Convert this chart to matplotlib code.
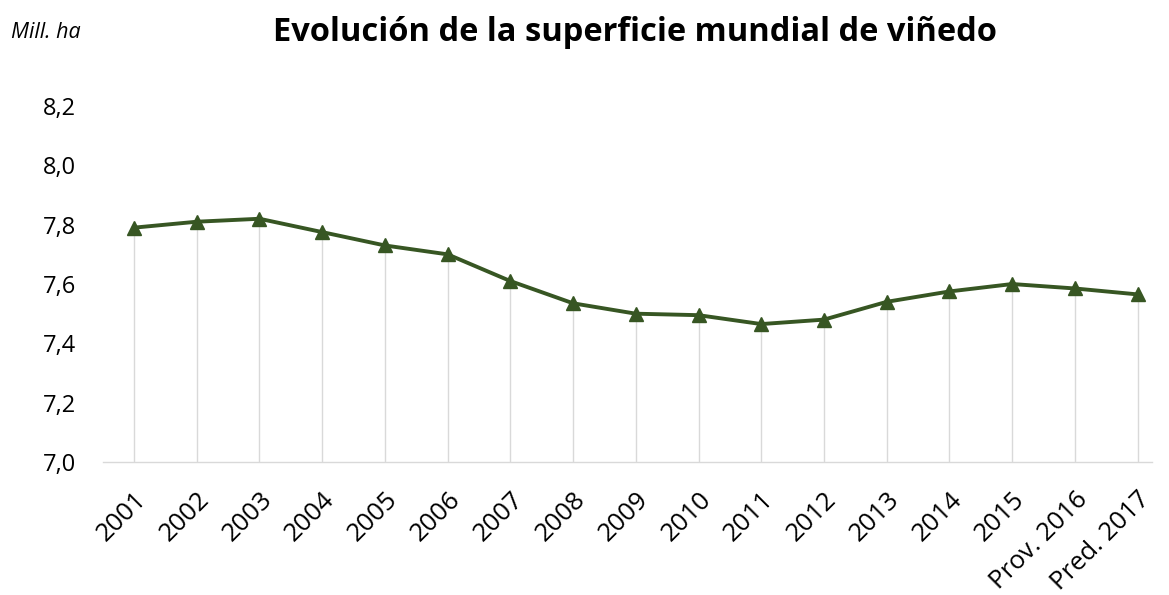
import matplotlib
matplotlib.use('Agg')
import matplotlib.pyplot as plt
import numpy as np

years = ['2001', '2002', '2003', '2004', '2005', '2006', '2007', '2008', '2009',
         '2010', '2011', '2012', '2013', '2014', '2015', 'Prov. 2016', 'Pred. 2017']
superficie = [7.79, 7.81, 7.82, 7.775, 7.73, 7.70, 7.61, 7.535, 7.50,
              7.495, 7.465, 7.48, 7.54, 7.575, 7.60, 7.585, 7.565]
yticks = [7.0, 7.2, 7.4, 7.6, 7.8, 8.0, 8.2]

plt.rcParams['font.family'] = ['Open Sans', 'DejaVu Sans']

fig = plt.figure(figsize=(11.69, 5.95), dpi=100)
ax = fig.add_axes([0.0878, 0.2235, 0.8977, 0.5983])

x = np.arange(len(years))
green = '#375623'

# drop lines from each point down to the axis
ax.vlines(x, 7.0, superficie, color='#d9d9d9', lw=1, zorder=1)
ax.plot(x, superficie, color=green, lw=2.8, marker='^', markersize=10,
        markerfacecolor=green, markeredgecolor=green, zorder=3)

ax.set_xlim(-0.5, len(years) - 0.77)
ax.set_ylim(7.0, 8.2)
ax.set_yticks(yticks)
ax.set_yticklabels([('%.1f' % v).replace('.', ',') for v in yticks], fontsize=17)
ax.set_xticks(x)
ax.set_xticklabels(years, fontsize=18.5, rotation=45, ha='right', rotation_mode='anchor')
ax.tick_params(axis='y', length=0, pad=19)
ax.tick_params(axis='x', length=0, pad=18)

for s in ['top', 'right', 'left']:
    ax.spines[s].set_visible(False)
ax.spines['bottom'].set_color('#d9d9d9')
ax.spines['bottom'].set_linewidth(1)

fig.text(0.543, 0.946, 'Evolución de la superficie mundial de viñedo', ha='center', va='center',
         fontsize=23.5, fontweight='bold')
fig.text(0.009, 0.945, 'Mill. ha', ha='left', va='center', fontsize=15.5, style='italic')

fig.savefig('out.png', dpi=100)
